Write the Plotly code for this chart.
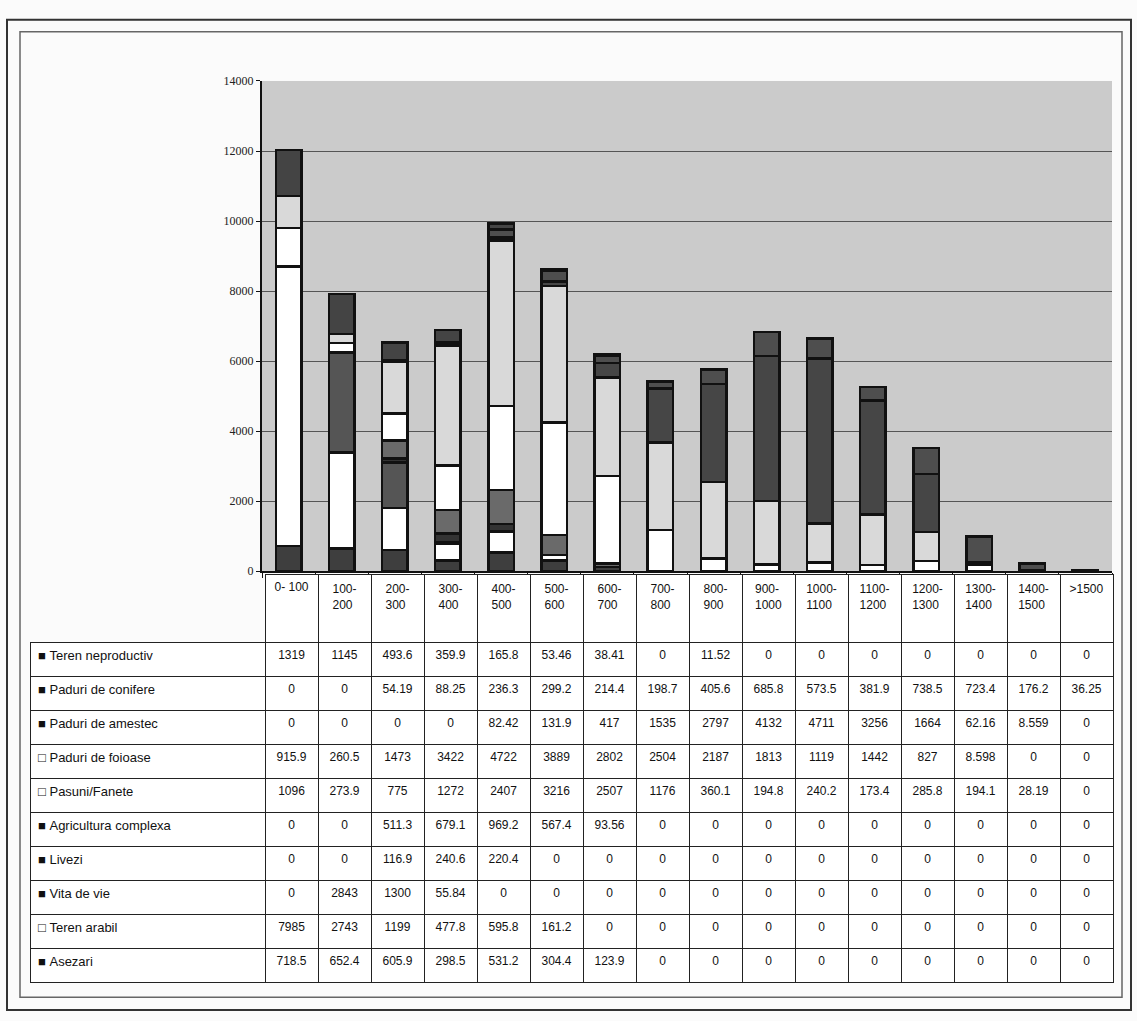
import plotly.graph_objects as go

W, H = 1137, 1021
NB = "\u00a0"

# Altitude bands (m)
bands = ["0- 100", "100-200", "200-300", "300-400", "400-500", "500-600", "600-700",
         "700-800", "800-900", "900-1000", "1000-1100", "1100-1200", "1200-1300",
         "1300-1400", "1400-1500", ">1500"]
band_headers = ["0-" + NB + "100", "100-<br>200", "200-<br>300", "300-<br>400", "400-<br>500",
                "500-<br>600", "600-<br>700", "700-<br>800", "800-<br>900", "900-<br>1000",
                "1000-<br>1100", "1100-<br>1200", "1200-<br>1300", "1300-<br>1400",
                "1400-<br>1500", ">1500"]

# Land-use areas per band (stacked bottom -> top)
asezari = [718.5, 652.4, 605.9, 298.5, 531.2, 304.4, 123.9, 0, 0, 0, 0, 0, 0, 0, 0, 0]
teren_arabil = [7985, 2743, 1199, 477.8, 595.8, 161.2, 0, 0, 0, 0, 0, 0, 0, 0, 0, 0]
vita_de_vie = [0, 2843, 1300, 55.84, 0, 0, 0, 0, 0, 0, 0, 0, 0, 0, 0, 0]
livezi = [0, 0, 116.9, 240.6, 220.4, 0, 0, 0, 0, 0, 0, 0, 0, 0, 0, 0]
agricultura_complexa = [0, 0, 511.3, 679.1, 969.2, 567.4, 93.56, 0, 0, 0, 0, 0, 0, 0, 0, 0]
pasuni_fanete = [1096, 273.9, 775, 1272, 2407, 3216, 2507, 1176, 360.1, 194.8, 240.2,
                 173.4, 285.8, 194.1, 28.19, 0]
paduri_foioase = [915.9, 260.5, 1473, 3422, 4722, 3889, 2802, 2504, 2187, 1813, 1119,
                  1442, 827, 8.598, 0, 0]
paduri_amestec = [0, 0, 0, 0, 82.42, 131.9, 417, 1535, 2797, 4132, 4711, 3256, 1664,
                  62.16, 8.559, 0]
paduri_conifere = [0, 0, 54.19, 88.25, 236.3, 299.2, 214.4, 198.7, 405.6, 685.8, 573.5,
                   381.9, 738.5, 723.4, 176.2, 36.25]
teren_neproductiv = [1319, 1145, 493.6, 359.9, 165.8, 53.46, 38.41, 0, 11.52, 0, 0, 0,
                     0, 0, 0, 0]

series = [
    ("Asezari", asezari, "#3e3e3e", "■"),
    ("Teren arabil", teren_arabil, "#ffffff", "□"),
    ("Vita de vie", vita_de_vie, "#555555", "■"),
    ("Livezi", livezi, "#333333", "■"),
    ("Agricultura complexa", agricultura_complexa, "#6a6a6a", "■"),
    ("Pasuni/Fanete", pasuni_fanete, "#ffffff", "□"),
    ("Paduri de foioase", paduri_foioase, "#d9d9d9", "□"),
    ("Paduri de amestec", paduri_amestec, "#464646", "■"),
    ("Paduri de conifere", paduri_conifere, "#4e4e4e", "■"),
    ("Teren neproductiv", teren_neproductiv, "#444444", "■"),
]

y_ticks = [0, 2000, 4000, 6000, 8000, 10000, 12000, 14000]


def px(x):
    return x / W


def py(y):
    return 1 - y / H


fig = go.Figure()

for name, vals, color, _ in series:
    fig.add_trace(go.Bar(
        x=bands, y=vals, name=name,
        marker=dict(color=color, line=dict(color="#111111", width=2.5)),
        showlegend=False,
    ))


def fmt(v):
    return f"{v:g}"


# Data table under the chart, top series listed first
table_rows = list(reversed(series))
label_col = [f"{sym}{NB}{name.replace(' ', NB)}" for name, _, _, sym in table_rows]
value_cols = [[fmt(vals[i]) for _, vals, _, _ in table_rows] for i in range(len(bands))]

fig.add_trace(go.Table(
    domain=dict(x=[px(30), px(1113)], y=[py(995), py(575)]),
    columnwidth=[235] + [53] * len(bands),
    header=dict(
        values=[""] + band_headers,
        height=68,
        align="center",
        fill=dict(color=["rgba(0,0,0,0)"] + ["#ffffff"] * len(bands)),
        line=dict(color=["rgba(0,0,0,0)"] + ["#222222"] * len(bands), width=1),
        font=dict(family="Liberation Sans, Arial, sans-serif", size=12, color="#111111"),
    ),
    cells=dict(
        values=[label_col] + value_cols,
        height=34,
        align=["left"] + ["center"] * len(bands),
        fill=dict(color="#ffffff"),
        line=dict(color="#222222", width=1),
        font=dict(family="Liberation Sans, Arial, sans-serif", size=[13] + [12] * len(bands),
                  color="#111111"),
    ),
))

fig.update_layout(
    width=W, height=H,
    margin=dict(l=0, r=0, t=0, b=0),
    paper_bgcolor="#fbfbfb",
    plot_bgcolor="#cbcbcb",
    barmode="stack",
    bargap=0.52,
    xaxis=dict(
        domain=[px(262), px(1112)],
        showticklabels=False,
        showline=True, linecolor="#111111", linewidth=2,
        ticks="outside", ticklen=5, tickcolor="#111111",
        tickson="boundaries",
        showgrid=False,
    ),
    yaxis=dict(
        domain=[py(572), py(75)],
        range=[0, 14000],
        tickvals=y_ticks,
        ticktext=[str(t) for t in y_ticks],
        showline=True, linecolor="#111111", linewidth=2,
        ticks="outside", ticklen=4, tickcolor="#111111",
        showgrid=True, gridcolor="#555555", gridwidth=1,
        tickfont=dict(family="Liberation Serif, serif", size=12, color="#222222"),
        zeroline=False,
    ),
    shapes=[
        dict(type="rect", xref="paper", yref="paper",
             x0=px(7), x1=px(1131), y0=py(1017), y1=py(13),
             line=dict(color="#333333", width=2)),
        dict(type="rect", xref="paper", yref="paper",
             x0=px(20), x1=px(1122), y0=py(1004), y1=py(25),
             line=dict(color="#666666", width=1.5)),
    ],
)

fig.write_html("out.html")
